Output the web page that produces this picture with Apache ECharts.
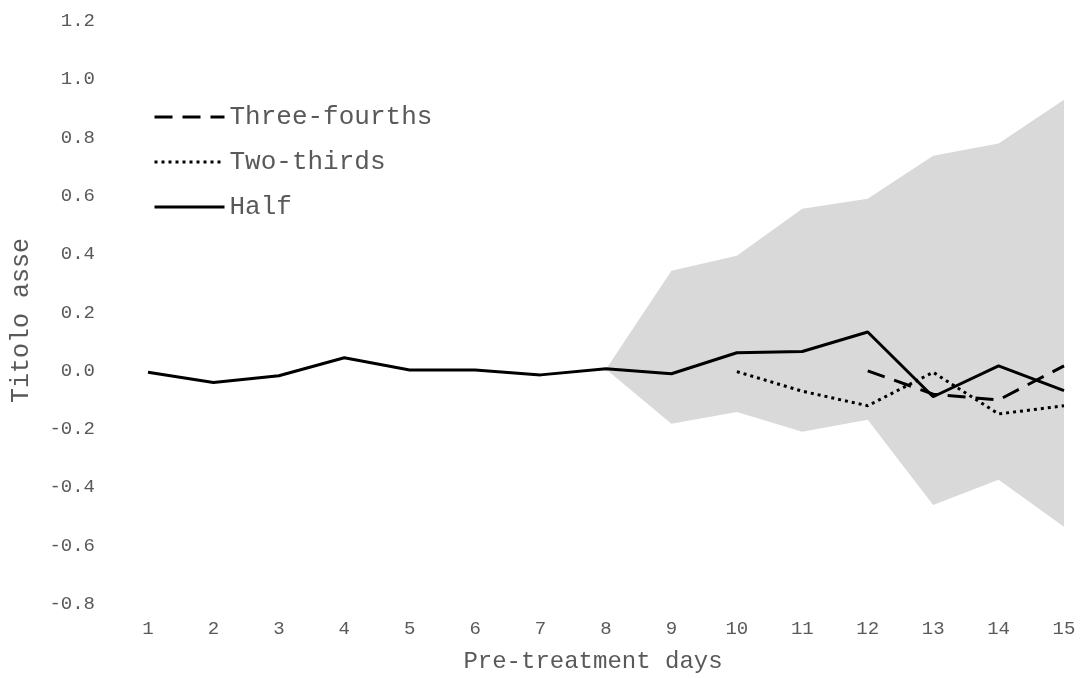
<!DOCTYPE html>
<html>
<head>
<meta charset="utf-8">
<script src="https://cdn.jsdelivr.net/npm/echarts@6/dist/echarts.min.js"></script>
<style>
  html, body { margin: 0; padding: 0; background: #fff; }
  #main { width: 1081px; height: 679px; }
</style>
</head>
<body>
<div id="main"></div>
<script>
// dati
var days = ['1', '2', '3', '4', '5', '6', '7', '8', '9', '10', '11', '12', '13', '14', '15'];
var half = [-0.005, -0.04, -0.017, 0.045, 0.003, 0.003, -0.014, 0.007, -0.01, 0.062, 0.066, 0.133, -0.089, 0.017, -0.068];
var twoThirds = [null, null, null, null, null, null, null, null, null, -0.003, -0.07, -0.12, -0.005, -0.148, -0.12];
var threeFourths = [null, null, null, null, null, null, null, null, null, null, null, 0.0, -0.08, -0.1, 0.017];
var bandLow = [null, null, null, null, null, null, null, 0.005, -0.182, -0.141, -0.209, -0.168, -0.46, -0.374, -0.535];
var bandHigh = [null, null, null, null, null, null, null, 0.005, 0.343, 0.395, 0.556, 0.59, 0.738, 0.78, 0.93];

var font = 'Liberation Mono';
var grey = '#595959';

// ampiezza della banda (per lo stack)
var bandSpan = bandHigh.map(function (v, i) {
    return v == null ? null : +(v - bandLow[i]).toFixed(3);
});

var myChart = echarts.init(document.getElementById('main'));

var option = {
    animation: false,
    textStyle: { fontFamily: font, color: grey },
    grid: { left: 148, right: 17, top: 21, bottom: 75 },
    legend: {
        data: ['Three-fourths', 'Two-thirds', 'Half'],
        orient: 'vertical',
        left: 148,
        top: 99,
        itemWidth: 70,
        itemHeight: 26,
        itemGap: 19,
        itemStyle: { opacity: 0 },
        lineStyle: { width: 3 },
        textStyle: { fontFamily: font, fontSize: 26, color: grey }
    },
    xAxis: {
        type: 'category',
        data: days,
        boundaryGap: false,
        name: 'Pre-treatment days',
        nameLocation: 'middle',
        nameGap: 46,
        nameTextStyle: { fontFamily: font, fontSize: 24, color: grey, padding: [0, 26, 0, 0] },
        axisLine: { show: false },
        axisTick: { show: false },
        axisLabel: { fontFamily: font, fontSize: 19, color: grey, margin: 15 },
        splitLine: { show: false }
    },
    yAxis: {
        type: 'value',
        min: -0.8,
        max: 1.2,
        interval: 0.2,
        name: 'Titolo asse',
        nameLocation: 'middle',
        nameGap: 114,
        nameTextStyle: { fontFamily: font, fontSize: 25, color: grey, padding: [0, 16, 0, 0] },
        axisLine: { show: false },
        axisTick: { show: false },
        splitLine: { show: false },
        axisLabel: {
            fontFamily: font, fontSize: 19, color: grey, margin: 53,
            formatter: function (v) { return v.toFixed(1); }
        }
    },
    series: [
        {
            name: 'bandBase',
            type: 'line',
            data: bandLow,
            stack: 'band',
            stackStrategy: 'all',
            symbol: 'none',
            lineStyle: { opacity: 0 },
            silent: true,
            z: 1
        },
        {
            name: 'bandSpan',
            type: 'line',
            data: bandSpan,
            stack: 'band',
            stackStrategy: 'all',
            symbol: 'none',
            lineStyle: { opacity: 0 },
            areaStyle: { color: '#d9d9d9', opacity: 1 },
            silent: true,
            z: 1
        },
        {
            name: 'Three-fourths',
            type: 'line',
            data: threeFourths,
            symbol: 'none',
            color: '#000',
            lineStyle: { color: '#000', width: 3, type: [18, 10] },
            z: 3
        },
        {
            name: 'Two-thirds',
            type: 'line',
            data: twoThirds,
            symbol: 'none',
            color: '#000',
            lineStyle: { color: '#000', width: 3, type: [3, 4] },
            z: 3
        },
        {
            name: 'Half',
            type: 'line',
            data: half,
            symbol: 'none',
            color: '#000',
            lineStyle: { color: '#000', width: 3 },
            z: 3
        }
    ]
};

myChart.setOption(option);
</script>
</body>
</html>
